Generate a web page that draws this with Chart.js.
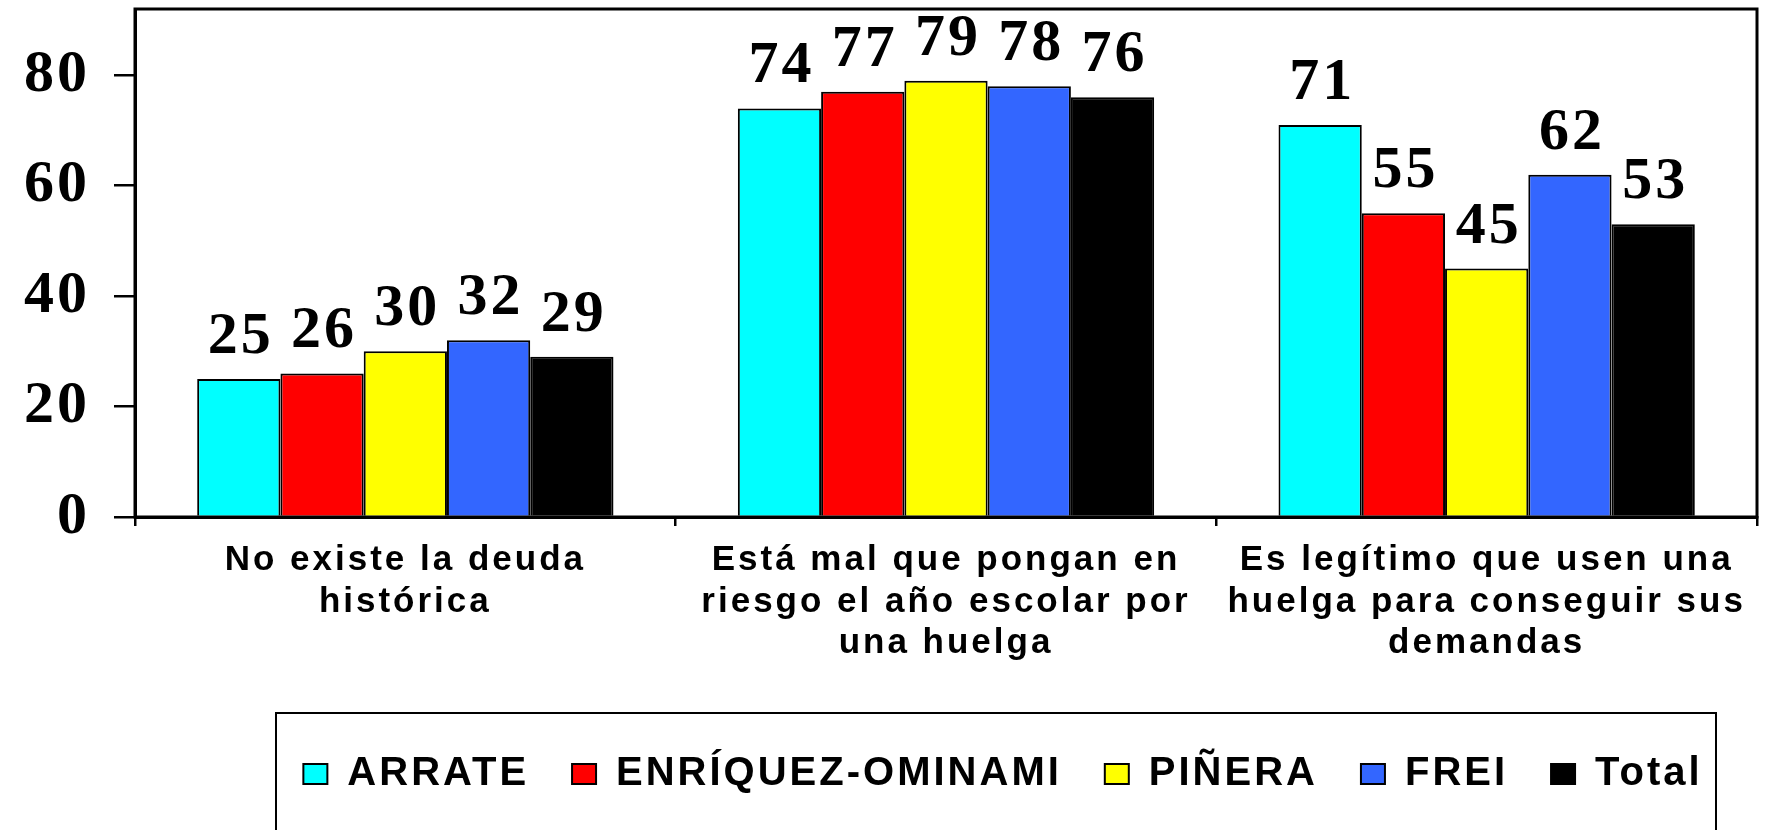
<!DOCTYPE html>
<html>
<head>
<meta charset="utf-8">
<script src="https://cdn.jsdelivr.net/npm/chart.js@4"></script>
<style>
  body { margin: 0; background: #fff; }
  canvas { display: block; }
</style>
</head>
<body>
<canvas id="chart" width="1766" height="830"></canvas>
<script>
const categories = [
  ['No existe la deuda', 'histórica'],
  ['Está mal que pongan en', 'riesgo el año escolar por', 'una huelga'],
  ['Es legítimo que usen una', 'huelga para conseguir sus', 'demandas']
];
const seriesNames = ['ARRATE', 'ENRÍQUEZ-OMINAMI', 'PIÑERA', 'FREI', 'Total'];
const arrate = [25, 74, 71];
const enriquez = [26, 77, 55];
const pinera = [30, 79, 45];
const frei = [32, 78, 62];
const total = [29, 76, 53];
const colors = ['#00FFFF', '#FF0000', '#FFFF00', '#3366FF', '#000000'];
const yTicks = [0, 20, 40, 60, 80];

const SPACING = '3px';

// the original text is drawn wide, so open up the letters a bit
const spacingPlugin = {
  id: 'spacing',
  beforeUpdate(chart) { chart.ctx.letterSpacing = SPACING; },
  beforeDraw(chart) { chart.ctx.letterSpacing = SPACING; }
};

// put the legend where the framed legend is in the original, and draw the frames
const legendFrame = {
  id: 'legendFrame',
  afterLayout(chart) {
    const a = chart.chartArea;
    const lg = chart.legend;
    // wide enough that the row never wraps, centred on the frame
    lg.left = a.left + 72;
    lg.right = a.right + 42;
    lg.top -= 26;
    lg.bottom -= 26;
  },
  afterDraw(chart) {
    const ctx = chart.ctx;
    const lg = chart.legend;
    const a = chart.chartArea;
    ctx.save();
    ctx.strokeStyle = '#000';
    ctx.lineWidth = 2;
    ctx.strokeRect(a.left + 141, lg.top + 2, a.right - a.left - 182, 200);
    // plot box
    ctx.lineWidth = 3;
    ctx.strokeRect(a.left, a.top, a.right - a.left, a.bottom - a.top);
    ctx.restore();
  }
};

const valueLabels = {
  id: 'valueLabels',
  afterDatasetsDraw(chart) {
    const ctx = chart.ctx;
    ctx.save();
    ctx.font = 'bold 60px "Liberation Serif", "Times New Roman", serif';
    ctx.fillStyle = '#000';
    ctx.textAlign = 'center';
    ctx.textBaseline = 'alphabetic';
    chart.data.datasets.forEach((ds, i) => {
      chart.getDatasetMeta(i).data.forEach((bar, j) => {
        ctx.fillText(ds.data[j], bar.x + 2, bar.y - 26);
      });
    });
    ctx.restore();
  }
};

const seriesData = [arrate, enriquez, pinera, frei, total];

new Chart(document.getElementById('chart'), {
  type: 'bar',
  data: {
    labels: categories,
    datasets: seriesNames.map((name, i) => ({
      label: name,
      data: seriesData[i],
      backgroundColor: colors[i],
      borderColor: '#000',
      borderWidth: 2,
      categoryPercentage: 0.77,
      barPercentage: 1
    }))
  },
  options: {
    responsive: false,
    animation: false,
    layout: { padding: { top: 9, right: 9, bottom: 0, left: 0 } },
    plugins: {
      legend: {
        position: 'bottom',
        labels: {
          color: '#000',
          font: { family: '"Liberation Sans", Arial, sans-serif', size: 40, weight: 'bold' },
          boxWidth: 24,
          boxHeight: 20,
          padding: 43
        }
      },
      tooltip: { enabled: false }
    },
    scales: {
      x: {
        afterFit: s => { s.height = 220; },
        border: { display: true, color: '#000', width: 3 },
        grid: { offset: true, drawOnChartArea: false, drawTicks: true, tickLength: 9, color: '#000', lineWidth: 2.5 },
        ticks: {
          color: '#000',
          padding: 14,
          maxRotation: 0,
          autoSkip: false,
          font: { family: '"Liberation Sans", Arial, sans-serif', size: 35, weight: 'bold', lineHeight: 1.18 }
        }
      },
      y: {
        min: 0,
        max: 92,
        afterFit: s => {
          s.width = 135;
          // labels stay inside the plot, no extra room needed above or below
          s.paddingTop = 0;
          s.paddingBottom = 0;
        },
        afterBuildTicks: s => { s.ticks = s.ticks.filter(t => yTicks.includes(t.value)); },
        border: { display: true, color: '#000', width: 3 },
        grid: { drawOnChartArea: false, drawTicks: true, tickLength: 21, color: '#000', lineWidth: 2.5 },
        ticks: {
          stepSize: 20,
          color: '#000',
          padding: 24,
          font: { family: '"Liberation Serif", "Times New Roman", serif', size: 60, weight: 'bold' }
        }
      }
    }
  },
  plugins: [spacingPlugin, legendFrame, valueLabels]
});
</script>
</body>
</html>
